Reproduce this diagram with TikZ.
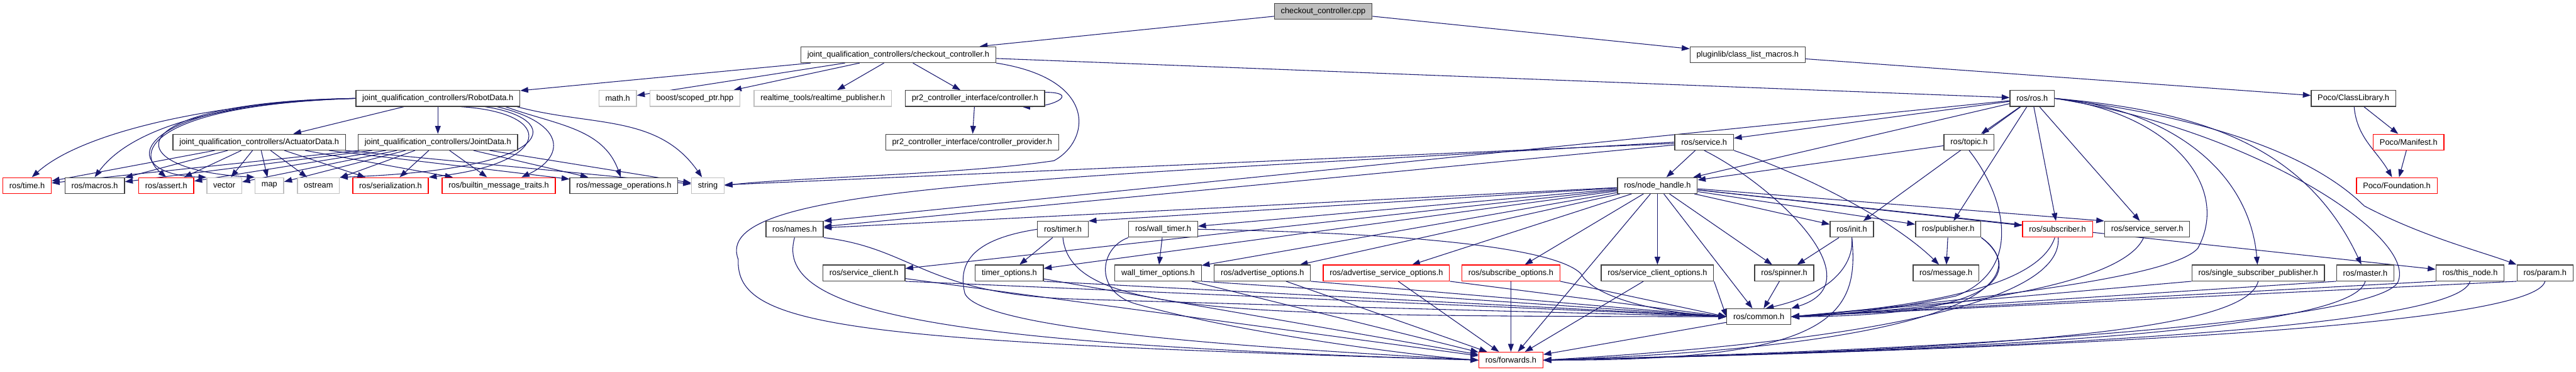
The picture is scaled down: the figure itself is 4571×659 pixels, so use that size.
\documentclass[tikz,border=0pt]{standalone}
\usepackage{fontspec}
\setmainfont{Liberation Sans}
\usetikzlibrary{arrows.meta,backgrounds}
\definecolor{edgeblue}{HTML}{191970}
\colorlet{boxgray}{black!25}
\tikzset{
  hdrfile/.style = {draw=black!75, fill=white, line width=1.5pt,
    minimum height=28pt, inner xsep=11.5pt, inner ysep=0pt,
    font=\fontsize{14.3pt}{16pt}\selectfont},
  hdrred/.style = {hdrfile, draw=red},
  hdrgray/.style = {hdrfile, draw=boxgray},
  hdrsrc/.style = {hdrfile, fill=boxgray},
  incl/.style = {draw=edgeblue, line width=1.2pt,
    -{Triangle[length=14pt,width=10pt]}}
}

\begin{document}
\begin{tikzpicture}[x=1pt,y=-1pt]
  \pgfmathsetmacro{\rowA}{20}
  \pgfmathsetmacro{\rowB}{97}
  \pgfmathsetmacro{\rowC}{174.5}
  \pgfmathsetmacro{\rowD}{252}
  \pgfmathsetmacro{\rowE}{329}
  \pgfmathsetmacro{\rowF}{406.5}
  \pgfmathsetmacro{\rowG}{484}
  \pgfmathsetmacro{\rowH}{561.5}
  \pgfmathsetmacro{\rowI}{638.5}
  %
  \useasboundingbox (0,0) rectangle (4571,659);
  % files
  \node[hdrsrc] (cpp) at (2348,\rowA) {checkout\_controller.cpp};
  \node[hdrfile] (cch) at (1594,\rowB) {joint\_qualification\_controllers/checkout\_controller.h};
  \node[hdrfile] (plm) at (3101,\rowB) {pluginlib/class\_list\_macros.h};
  \node[hdrfile] (rdata) at (777,\rowC) {joint\_qualification\_controllers/RobotData.h};
  \node[hdrgray] (math) at (1096,\rowC) {math.h};
  \node[hdrgray] (scp) at (1233,\rowC) {boost/scoped\_ptr.hpp};
  \node[hdrgray] (rtp) at (1460,\rowC) {realtime\_tools/realtime\_publisher.h};
  \node[hdrfile] (ctrl) at (1730,\rowC) {pr2\_controller\_interface/controller.h};
  \node[hdrfile] (ros) at (3606,\rowC) {ros/ros.h};
  \node[hdrfile] (pcl) at (4176,\rowC) {Poco/ClassLibrary.h};
  \node[hdrfile] (adata) at (460,\rowD) {joint\_qualification\_controllers/ActuatorData.h};
  \node[hdrfile] (jdata) at (777,\rowD) {joint\_qualification\_controllers/JointData.h};
  \node[hdrfile] (cprov) at (1725,\rowD) {pr2\_controller\_interface/controller\_provider.h};
  \node[hdrfile] (srv) at (3024,\rowD) {ros/service.h};
  \node[hdrfile] (topic) at (3494,\rowD) {ros/topic.h};
  \node[hdrred] (pman) at (4274,\rowD) {Poco/Manifest.h};
  \node[hdrred] (time) at (48,\rowE) {ros/time.h};
  \node[hdrfile] (macros) at (168,\rowE) {ros/macros.h};
  \node[hdrred] (assert) at (295,\rowE) {ros/assert.h};
  \node[hdrgray] (vector) at (398,\rowE) {vector};
  \node[hdrgray] (map) at (478,\rowE) {map};
  \node[hdrgray] (ostream) at (565,\rowE) {ostream};
  \node[hdrred] (ser) at (693,\rowE) {ros/serialization.h};
  \node[hdrred] (bmt) at (885,\rowE) {ros/builtin\_message\_traits.h};
  \node[hdrfile] (mops) at (1107,\rowE) {ros/message\_operations.h};
  \node[hdrgray] (string) at (1256,\rowE) {string};
  \node[hdrfile] (nh) at (2941,\rowE) {ros/node\_handle.h};
  \node[hdrred] (pfound) at (4253,\rowE) {Poco/Foundation.h};
  \node[hdrfile] (names) at (1410,\rowF) {ros/names.h};
  \node[hdrfile] (timer) at (1886,\rowF) {ros/timer.h};
  \node[hdrfile] (wtimer) at (2064,\rowF) {ros/wall\_timer.h};
  \node[hdrfile] (init) at (3286,\rowF) {ros/init.h};
  \node[hdrfile] (pub) at (3457,\rowF) {ros/publisher.h};
  \node[hdrred] (sub) at (3651,\rowF) {ros/subscriber.h};
  \node[hdrfile] (ssrv) at (3810,\rowF) {ros/service\_server.h};
  \node[hdrfile] (sclient) at (1533,\rowG) {ros/service\_client.h};
  \node[hdrfile] (topts) at (1791,\rowG) {timer\_options.h};
  \node[hdrfile] (wtopts) at (2055,\rowG) {wall\_timer\_options.h};
  \node[hdrfile] (aopts) at (2240,\rowG) {ros/advertise\_options.h};
  \node[hdrred] (asopts) at (2460,\rowG) {ros/advertise\_service\_options.h};
  \node[hdrred] (subopts) at (2681,\rowG) {ros/subscribe\_options.h};
  \node[hdrfile] (scopts) at (2941,\rowG) {ros/service\_client\_options.h};
  \node[hdrfile] (spin) at (3166,\rowG) {ros/spinner.h};
  \node[hdrfile] (msg) at (3453,\rowG) {ros/message.h};
  \node[hdrfile] (ssp) at (4007,\rowG) {ros/single\_subscriber\_publisher.h};
  \node[hdrfile] (master) at (4197,\rowG) {ros/master.h};
  \node[hdrfile] (thisn) at (4383,\rowG) {ros/this\_node.h};
  \node[hdrfile] (param) at (4516,\rowG) {ros/param.h};
  \node[hdrfile] (common) at (3121,\rowH) {ros/common.h};
  \node[hdrred] (fwd) at (2681,\rowI) {ros/forwards.h};
  % includes
  \begin{scope}[on background layer]
    \draw[incl] (cpp) -- (cch);
    \draw[incl] (cpp) -- (plm);
    \draw[incl] (plm) -- (pcl);
    \draw[incl] (pcl) -- (pman);
    \draw[incl] (pman) -- (pfound);
    \draw[incl] (pcl) to[out=-85,in=120] (pfound);
    % checkout controller
    \foreach \dst in {rdata,math,scp,rtp,ctrl,ros}
      \draw[incl] (cch) -- (\dst);
    \draw[incl] (cch.south east) .. controls (1950,140) and (1935,250) .. (1870,285)
      .. controls (1700,310) and (1400,315) .. (string.east);
    \draw[incl] (ctrl.5) to[out=0,in=0,looseness=3.2] (ctrl.-10);
    \draw[incl] (ctrl) -- (cprov);
    % messages
    \draw[incl] (rdata) -- (adata);
    \draw[incl] (rdata) -- (jdata);
    \foreach \src in {adata,jdata}
      \foreach \dst in {time,macros,assert,vector,map,ostream,ser,bmt,mops,string}
        \draw[incl] (\src) -- (\dst);
    \draw[incl] (rdata.west) .. controls (400,180) and (150,230) .. (time.60);
    \draw[incl] (rdata.west) .. controls (380,182) and (230,230) .. (macros.north);
    \draw[incl] (rdata.west) .. controls (300,185) and (230,260) .. (assert.north);
    \draw[incl] (rdata.west) .. controls (220,180) and (200,310) .. (vector.north west);
    \draw[incl] (rdata.west) .. controls (210,180) and (200,300) .. (map.north west);
    \draw[incl] (rdata.-10) .. controls (1000,210) and (1000,300) .. (ostream.north east);
    \draw[incl] (rdata.-20) .. controls (990,200) and (980,290) .. (ser.north east);
    \draw[incl] (rdata.-8) .. controls (1010,220) and (1000,280) .. (bmt.20);
    \draw[incl] (rdata.-7) to[out=-20,in=110] (mops);
    \draw[incl] (rdata.-6) to[out=-15,in=125] (string);
    % ros.h
    \foreach \dst in {srv,topic,nh,init,pub,sub,ssrv}
      \draw[incl] (ros) -- (\dst);
    \draw[incl] (ros) -- (names.north east);
    \draw[incl] (ros.east) .. controls (3850,200) and (3960,330) .. (3900,440)
      .. controls (3850,500) and (3400,540) .. (common.east);
    \draw[incl] (ros.east) to[out=-5,in=95] (ssp);
    \draw[incl] (ros.east) to[out=-5,in=115] (master);
    \draw[incl] (ros.east) .. controls (3980,215) and (4130,300) .. (4195,365)
      .. controls (4300,420) and (4400,445) .. (param.north west);
    \draw[incl] (ros.east) .. controls (4000,230) and (4290,420) .. (4255,500)
      .. controls (4220,570) and (3500,620) .. (fwd.east);
    % service and topic
    \draw[incl] (srv) -- (nh);
    \draw[incl] (srv) -- (names);
    \draw[incl] (srv) -- (string);
    \draw[incl] (srv.south east) .. controls (3230,320) and (3370,400) .. (msg.130);
    \draw[incl] (srv.south) .. controls (3150,330) and (3330,500) .. (common.north east);
    \draw[incl] (srv.west) .. controls (1800,320) and (1260,330) .. (1310,460)
      .. controls (1305,580) and (1500,605) .. (fwd.west);
    \draw[incl] (topic) -- (nh);
    \draw[incl] (topic.south) .. controls (3560,350) and (3590,480) .. (3470,525)
      .. controls (3350,550) and (3250,560) .. (common.east);
    % node handle
    \foreach \dst in {names,wtimer,sclient,topts,wtopts,aopts,asopts,subopts,scopts,spin,init,pub,sub,thisn,common,fwd}
      \draw[incl] (nh) -- (\dst);
    \draw[incl] (nh) -- (timer.north east);
    \draw[incl] (nh) -- (ssrv.north west);
    % names and timers
    \draw[incl] (names.south east) .. controls (1620,440) and (1640,520) .. (1900,530)
      .. controls (2400,545) and (2800,555) .. (common.west);
    \draw[incl] (names.south) .. controls (1370,560) and (1700,610) .. (fwd.west);
    \draw[incl] (timer) -- (topts);
    \draw[incl] (timer.south) .. controls (1900,560) and (2200,560) .. (common.west);
    \draw[incl] (timer.west) .. controls (1720,425) and (1700,470) .. (1712,520)
      .. controls (1740,590) and (2300,620) .. (fwd.west);
    \draw[incl] (wtimer) -- (wtopts);
    \draw[incl] (wtimer.east) .. controls (2600,415) and (2770,450) .. (2805,485)
      .. controls (2830,530) and (2950,555) .. (common.west);
    \draw[incl] (wtimer.south west) .. controls (1950,440) and (1940,520) .. (2020,540)
      .. controls (2200,590) and (2500,630) .. (fwd.west);
    % options
    \foreach \src in {sclient,topts,wtopts,aopts,asopts,subopts,scopts} {
      \draw[incl] (\src.south east) -- (common.west);
      \draw[incl] (\src) -- (fwd);
    }
    % init, publisher, subscriber, server
    \draw[incl] (init) -- (spin);
    \draw[incl] (init.south) .. controls (3290,470) and (3250,520) .. (common.50);
    \draw[incl] (init.south) .. controls (3300,560) and (3250,640) .. (fwd.east);
    \draw[incl] (spin) -- (common);
    \draw[incl] (pub) -- (msg);
    \draw[incl] (pub.south east) .. controls (3580,470) and (3580,560) .. (common.east);
    \draw[incl] (pub.south east) .. controls (3600,480) and (3560,610) .. (fwd.east);
    \draw[incl] (sub) .. controls (3620,500) and (3450,540) .. (common.east);
    \draw[incl] (sub) .. controls (3660,520) and (3400,600) .. (fwd.east);
    \draw[incl] (ssrv) .. controls (3770,500) and (3500,545) .. (common.east);
    % right side
    \foreach \src in {ssp,master,thisn,param} {
      \draw[incl] (\src.south west) -- (common.east);
      \draw[incl] (\src.south) .. controls +(-20,80) and +(900,-20) .. (fwd.east);
    }
    \draw[incl] (common) -- (fwd);
  \end{scope}
\end{tikzpicture}
\end{document}
